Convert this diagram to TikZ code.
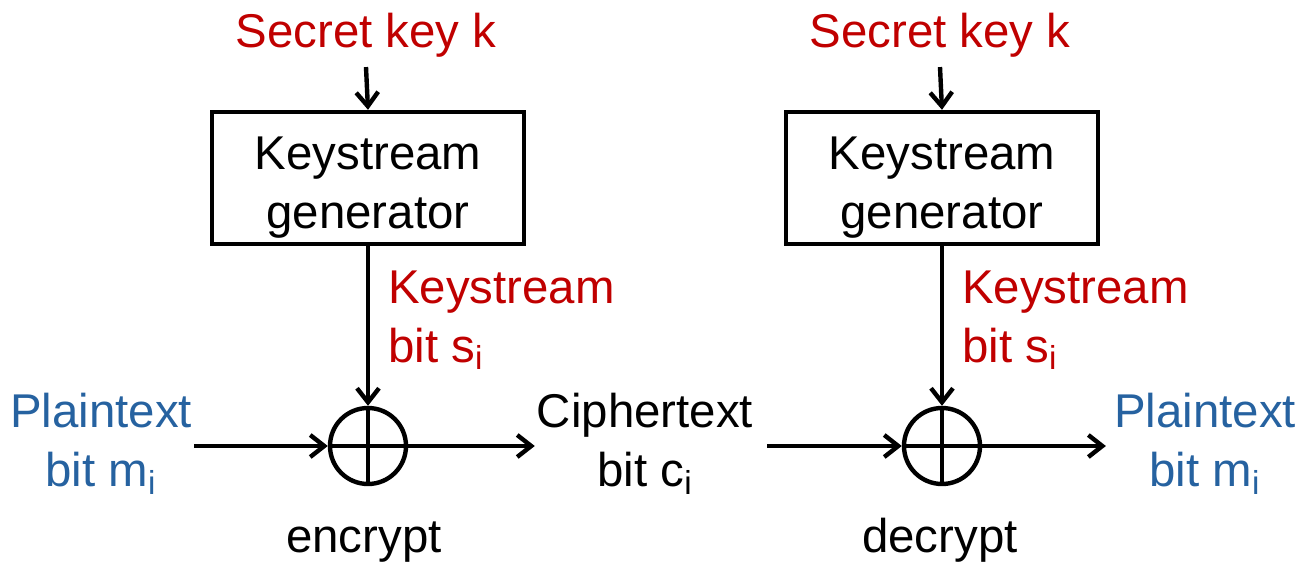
\documentclass[tikz,border=0pt]{standalone}
\usepackage{fontspec}
\setmainfont{Liberation Sans}
\usetikzlibrary{arrows.meta}
\definecolor{keyred}{RGB}{192,0,0}
\definecolor{plainblue}{RGB}{38,98,160}

\tikzset{
  genbox/.style={draw, minimum width=156pt, minimum height=66pt, align=center, inner sep=0pt, text depth=0pt},
  xorgate/.style={draw, circle, minimum size=38pt, inner sep=0pt,
    path picture={\draw (path picture bounding box.north) -- (path picture bounding box.south)
                        (path picture bounding box.west) -- (path picture bounding box.east);}},
  keylabel/.style={text=keyred, inner sep=4pt},
  streamlabel/.style={text=keyred, align=left, inner sep=0pt, anchor=west},
  plainlabel/.style={text=plainblue, align=center, inner sep=0pt},
  cipherlabel/.style={align=center, inner sep=0pt}
}

\begin{document}
\begin{tikzpicture}[x=0.5pt, y=-0.5pt, line width=2.2pt,
  font=\fontsize{23.7}{29.5}\selectfont,
  >={Straight Barb[length=7pt, width=11pt]}]
\useasboundingbox (0,0) rectangle (1302,562);

% encrypt side
\node[keylabel, anchor=base] (key1) at (366,47) {Secret key k};
\node[genbox] (gen1) at (368,178) {\rule{0pt}{21pt}Keystream\\generator};
\node[xorgate] (xor1) at (368,446) {};
\node[streamlabel] (stream1) at (386,320) {Keystream\\bit s\textsubscript{i}};
\node[plainlabel] (plain1) at (101,444) {Plaintext\\bit m\textsubscript{i}};
\node[anchor=base] (enc) at (364,552) {encrypt};

\node[cipherlabel] (cipher) at (645,444) {Ciphertext\\bit c\textsubscript{i}};

% decrypt side
\node[keylabel, anchor=base] (key2) at (940,47) {Secret key k};
\node[genbox] (gen2) at (942,178) {\rule{0pt}{21pt}Keystream\\generator};
\node[xorgate] (xor2) at (942,446) {};
\node[streamlabel] (stream2) at (960,320) {Keystream\\bit s\textsubscript{i}};
\node[plainlabel] (plain2) at (1205,444) {Plaintext\\bit m\textsubscript{i}};
\node[anchor=base] (dec) at (940,552) {decrypt};

% connectors
\draw[->] (key1.south) -- (gen1.north);
\draw[->] (gen1.south) -- (xor1.north);
\draw[->] (plain1.east |- xor1) -- (xor1.west);
\draw[->] (xor1.east) -- (cipher.west |- xor1);
\draw[->] (key2.south) -- (gen2.north);
\draw[->] (gen2.south) -- (xor2.north);
\draw[->, shorten <=6pt] (cipher.east |- xor2) -- (xor2.west);
\draw[->] (xor2.east) -- ([xshift=-3pt]plain2.west |- xor2);
\end{tikzpicture}
\end{document}
